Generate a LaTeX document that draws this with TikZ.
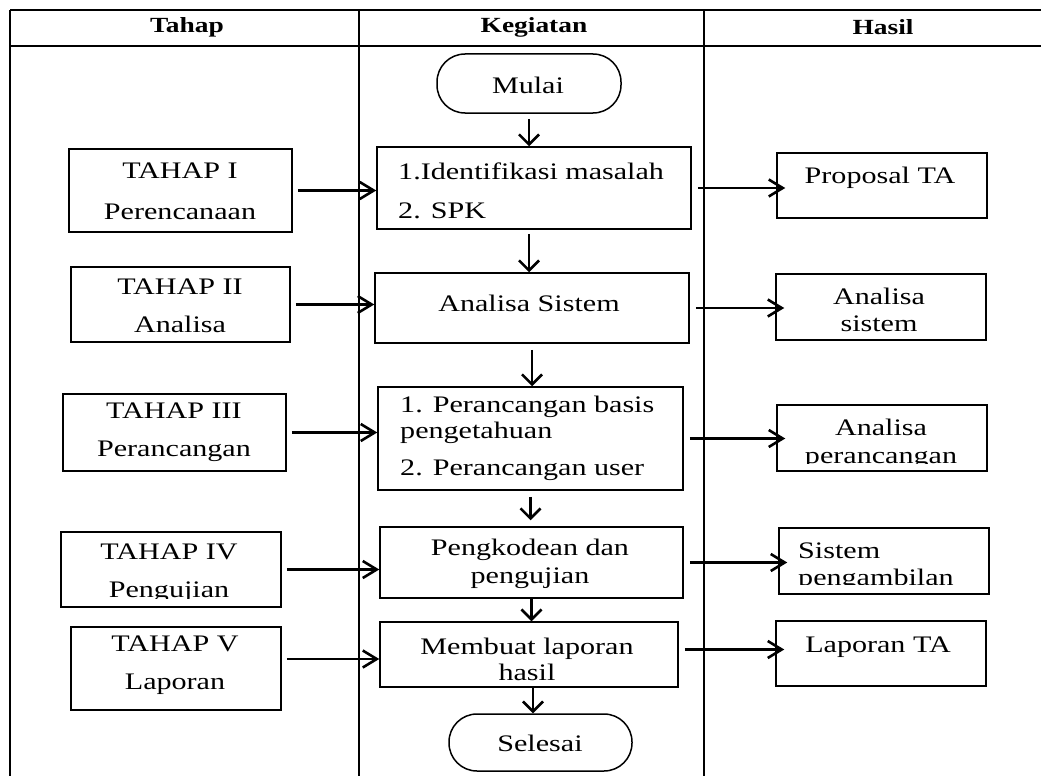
\documentclass[tikz,border=0pt]{standalone}
\usepackage{fontspec}
\setmainfont{Liberation Serif}[FakeStretch=1.27]
\usetikzlibrary{arrows.meta}
\begin{document}
\begin{tikzpicture}[x=1pt,y=-1pt]
\tikzstyle{box}=[draw, line width=1.5pt, inner sep=0pt]
\tikzstyle{terminal}=[box, rounded corners=28pt]
\tikzstyle{txt}=[inner sep=0pt, align=center, font=\fontsize{23.7}{27}\selectfont]
\tikzstyle{tahaptxt}=[txt, font=\fontsize{23.7}{38}\selectfont]
\tikzstyle{judul}=[inner sep=0pt, font=\fontsize{21.6}{24}\selectfont\bfseries]
\tikzstyle{garis}=[line width=1.8pt]
\tikzstyle{flow}=[line width=2.6pt, -{Straight Barb[length=14pt,width=17pt]}]
\tikzstyle{flowdown}=[line width=2.6pt, -{Straight Barb[length=10pt,width=20pt]}]

\useasboundingbox (0,0) rectangle (1041,776);

\draw[garis] (10,10) -- (1041,10);
\draw[garis] (10,46) -- (1041,46);
\draw[garis] (10,10) -- (10,776);
\draw[garis] (359,10) -- (359,776);
\draw[garis] (704,10) -- (704,776);

\node[judul] (judulTahap) at (187,27) {Tahap};
\node[judul] (judulKegiatan) at (534,27) {Kegiatan};
\node[judul] (judulHasil) at (883,27) {Hasil};

\node[box, minimum width=223pt, minimum height=83pt] (tahapI) at (180.5,190.5) {};
\node[box, minimum width=219pt, minimum height=75pt] (tahapII) at (180.5,304.5) {};
\node[box, minimum width=223pt, minimum height=77pt] (tahapIII) at (174.5,432.5) {};
\node[box, minimum width=220pt, minimum height=75pt] (tahapIV) at (171,569.5) {};
\node[box, minimum width=210pt, minimum height=83pt] (tahapV) at (176,668.5) {};

\node[terminal, minimum width=184pt, minimum height=59pt] (mulai) at (529,83.5) {};
\node[box, minimum width=314pt, minimum height=82pt] (kegI) at (534,188) {};
\node[box, minimum width=314pt, minimum height=70pt] (kegII) at (532,308) {};
\node[box, minimum width=305pt, minimum height=103pt] (kegIII) at (530.5,438.5) {};
\node[box, minimum width=303pt, minimum height=71pt] (kegIV) at (531.5,562.5) {};
\node[box, minimum width=298pt, minimum height=65pt] (kegV) at (529,654.5) {};
\node[terminal, minimum width=183pt, minimum height=57pt] (selesai) at (540.5,742.5) {};

\node[box, minimum width=210pt, minimum height=65pt] (hasilI) at (882,185.5) {};
\node[box, minimum width=210pt, minimum height=66pt] (hasilII) at (881,307) {};
\node[box, minimum width=210pt, minimum height=66pt] (hasilIII) at (882,438) {};
\node[box, minimum width=210pt, minimum height=66pt] (hasilIV) at (884,561) {};
\node[box, minimum width=210pt, minimum height=65pt] (hasilV) at (881,653.5) {};

\node[tahaptxt, font=\fontsize{23.7}{41}\selectfont] (tahapItext) at (180,191.5) {TAHAP I\\Perencanaan};
\node[tahaptxt] (tahapIItext) at (180,305.5) {TAHAP II\\Analisa};
\node[tahaptxt] (tahapIIItext) at (174,432) {TAHAP III\\Perancangan};
\begin{scope}
	\clip (tahapIV.north west) rectangle ([yshift=9pt]tahapIV.south east);
	\node[tahaptxt] (tahapIVtext) at (169,573.5) {TAHAP IV\\Pengujian};
\end{scope}
\node[tahaptxt] (tahapVtext) at (175,665.5) {TAHAP V\\Laporan};

\node[txt] (mulaitext) at (528,85) {Mulai};
\node[txt, anchor=west, align=left, font=\fontsize{23.7}{39}\selectfont] (kegItext) at (398,190.5) {1.Identifikasi masalah\\2. SPK};
\node[txt] (kegIItext) at (529,303) {Analisa Sistem};
\node[txt, anchor=west, align=left, font=\fontsize{23.7}{26}\selectfont] (kegIIItext) at (400,438.5) {1. Perancangan basis\\pengetahuan\\[11pt]2. Perancangan user};
\node[txt, font=\fontsize{23.7}{28}\selectfont] (kegIVtext) at (530,564) {Pengkodean dan\\pengujian};
\node[txt, font=\fontsize{23.7}{26}\selectfont] (kegVtext) at (527,659) {Membuat laporan\\hasil};
\node[txt] (selesaitext) at (540,743) {Selesai};

\node[txt] (hasilItext) at (880,178) {Proposal TA};
\node[txt] (hasilIItext) at (879,309.5) {Analisa\\sistem};
\begin{scope}
	\clip (hasilIII.north west) rectangle ([yshift=8pt]hasilIII.south east);
	\node[txt, font=\fontsize{23.7}{28}\selectfont] (hasilIIItext) at (881,444) {Analisa\\perancangan};
\end{scope}
\begin{scope}
	\clip (hasilIV.north west) rectangle ([yshift=10pt]hasilIV.south east);
	\node[txt, anchor=west, align=left] (hasilIVtext) at (798,566.5) {Sistem\\pengambilan};
\end{scope}
\node[txt] (hasilVtext) at (878,647) {Laporan TA};

\draw[flow, shorten <=5pt] (tahapI.east) -- (tahapI.east -| kegI.west);
\draw[flow, shorten <=5pt] (tahapII.east) -- (tahapII.east -| kegII.west);
\draw[flow, shorten <=5pt] (tahapIII.east) -- (tahapIII.east -| kegIII.west);
\draw[flow, shorten <=5pt] (tahapIV.east) -- (tahapIV.east -| kegIV.west);
\draw[flow, shorten <=5pt] ([yshift=9.5pt]tahapV.east) -- ([yshift=9.5pt]tahapV.east -| kegV.west);

\draw[flow, shorten <=6pt, shorten >=-9pt] (kegI.east) -- (kegI.east -| hasilI.west);
\draw[flow, shorten <=6pt, shorten >=-9pt] (kegII.east) -- (kegII.east -| hasilII.west);
\draw[flow, shorten <=6pt, shorten >=-9pt] (kegIII.east) -- (kegIII.east -| hasilIII.west);
\draw[flow, shorten <=6pt, shorten >=-9pt] (kegIV.east) -- (kegIV.east -| hasilIV.west);
\draw[flow, shorten <=6pt, shorten >=-9pt] ([yshift=5pt]kegV.east) -- ([yshift=5pt]kegV.east -| hasilV.west);

\draw[flowdown, shorten <=5pt] (mulai.south) -- (mulai.south |- kegI.north);
\draw[flowdown, shorten <=4pt] ([xshift=-5pt]kegI.south) -- ([xshift=-5pt]kegI.south |- kegII.north);
\draw[flowdown, shorten <=6pt] (kegII.south) -- (kegII.south |- kegIII.north);
\draw[flowdown, shorten <=6pt, shorten >=6pt] (kegIII.south) -- (kegIII.south |- kegIV.north);
\draw[flowdown] (kegIV.south) -- (kegIV.south |- kegV.north);
\draw[flowdown] ([xshift=4pt]kegV.south) -- ([xshift=4pt]kegV.south |- selesai.north);

\end{tikzpicture}
\end{document}
